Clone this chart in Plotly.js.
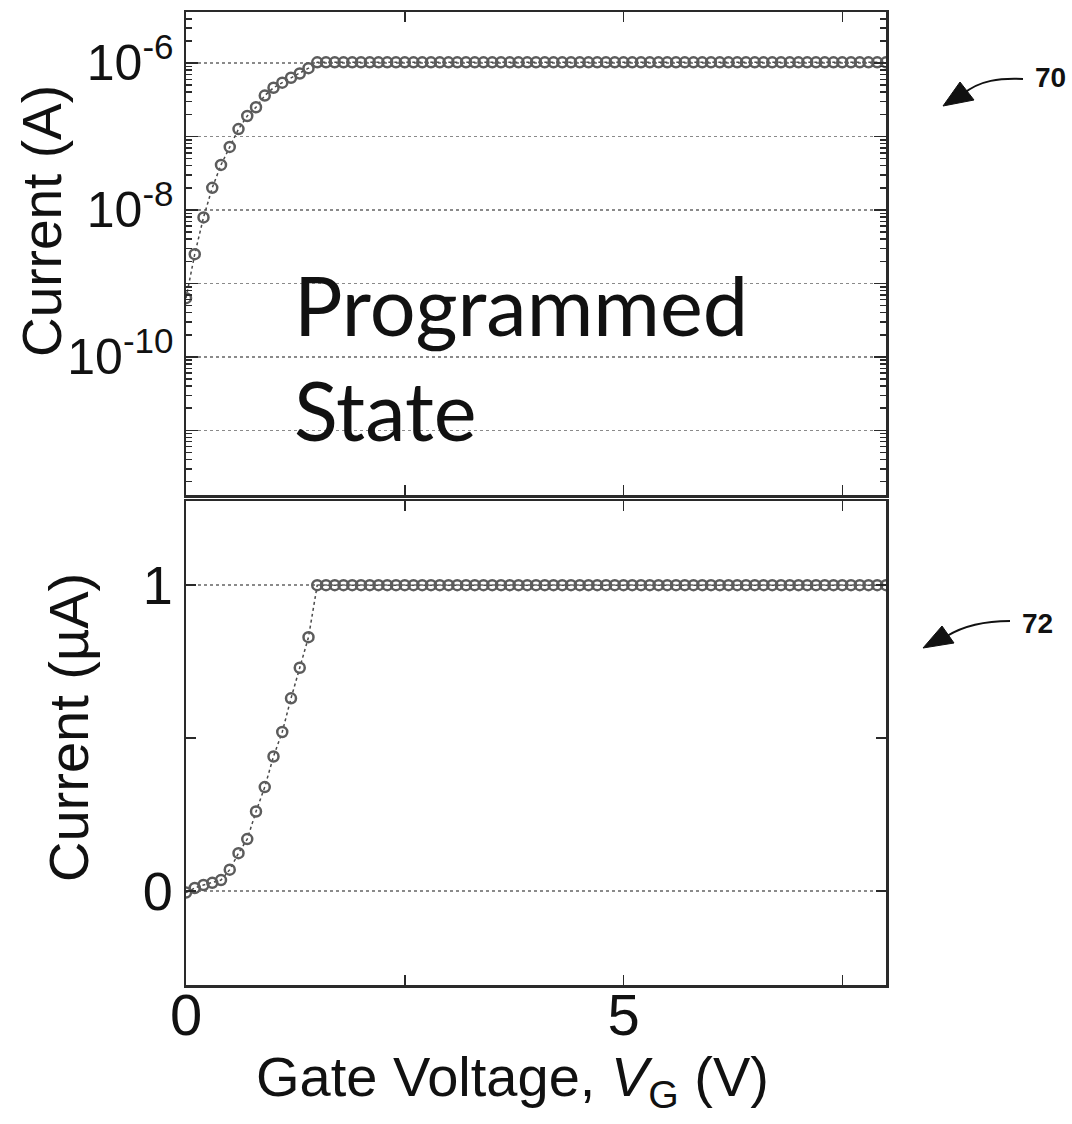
<!DOCTYPE html>
<html>
<head>
<meta charset="utf-8">
<script src="https://cdn.plot.ly/plotly-3.0.1.min.js"></script>
<style>
html,body{margin:0;padding:0;background:#ffffff;}
#chart{width:1072px;height:1124px;}
</style>
</head>
<body>
<div id="chart"></div>
<script>
// ---- data ----
const voltage = [
  0.0,0.1,0.2,0.3,0.4,0.5,0.6,0.7,0.8,0.9,
  1.0,1.1,1.2,1.3,1.4,1.5,1.6,1.7,1.8,1.9,
  2.0,2.1,2.2,2.3,2.4,2.5,2.6,2.7,2.8,2.9,
  3.0,3.1,3.2,3.3,3.4,3.5,3.6,3.7,3.8,3.9,
  4.0,4.1,4.2,4.3,4.4,4.5,4.6,4.7,4.8,4.9,
  5.0,5.1,5.2,5.3,5.4,5.5,5.6,5.7,5.8,5.9,
  6.0,6.1,6.2,6.3,6.4,6.5,6.6,6.7,6.8,6.9,
  7.0,7.1,7.2,7.3,7.4,7.5,7.6,7.7,7.8,7.9,
  8.0
];
// top panel: current in A (log scale)
const currentA = [
  6.3e-10,2.5e-9,7.9e-9,2.0e-8,4.1e-8,7.2e-8,1.26e-7,1.9e-7,2.5e-7,3.6e-7,
  4.6e-7,5.4e-7,6.3e-7,7.2e-7,8.5e-7,1.02e-6,1.02e-6,1.02e-6,1.02e-6,1.02e-6,
  1.02e-6,1.02e-6,1.02e-6,1.02e-6,1.02e-6,1.02e-6,1.02e-6,1.02e-6,1.02e-6,1.02e-6,
  1.02e-6,1.02e-6,1.02e-6,1.02e-6,1.02e-6,1.02e-6,1.02e-6,1.02e-6,1.02e-6,1.02e-6,
  1.02e-6,1.02e-6,1.02e-6,1.02e-6,1.02e-6,1.02e-6,1.02e-6,1.02e-6,1.02e-6,1.02e-6,
  1.02e-6,1.02e-6,1.02e-6,1.02e-6,1.02e-6,1.02e-6,1.02e-6,1.02e-6,1.02e-6,1.02e-6,
  1.02e-6,1.02e-6,1.02e-6,1.02e-6,1.02e-6,1.02e-6,1.02e-6,1.02e-6,1.02e-6,1.02e-6,
  1.02e-6,1.02e-6,1.02e-6,1.02e-6,1.02e-6,1.02e-6,1.02e-6,1.02e-6,1.02e-6,1.02e-6,
  1.02e-6
];
// bottom panel: current in µA (linear scale)
const currentMicroA = [
  -0.005,0.01,0.02,0.027,0.036,0.07,0.124,0.17,0.26,0.34,
  0.44,0.52,0.63,0.73,0.83,1.0,1.0,1.0,1.0,1.0,
  1.0,1.0,1.0,1.0,1.0,1.0,1.0,1.0,1.0,1.0,
  1.0,1.0,1.0,1.0,1.0,1.0,1.0,1.0,1.0,1.0,
  1.0,1.0,1.0,1.0,1.0,1.0,1.0,1.0,1.0,1.0,
  1.0,1.0,1.0,1.0,1.0,1.0,1.0,1.0,1.0,1.0,
  1.0,1.0,1.0,1.0,1.0,1.0,1.0,1.0,1.0,1.0,
  1.0,1.0,1.0,1.0,1.0,1.0,1.0,1.0,1.0,1.0,
  1.0
];
const xTickVals = [0, 5];
const xTickText = ['0', '5'];
const xMinorVals = [2.5, 7.5];
const logTickVals = [1e-11, 1e-10, 1e-9, 1e-8, 1e-7, 1e-6];
const logTickText = ['', '10<sup>-10</sup>', '', '10<sup>-8</sup>', '', '10<sup>-6</sup>'];
const linTickVals = [0, 1];
const linTickText = ['0', '1'];
const linMinorVals = [0.5];
const panelLabels = ['70', '72'];
const stateLabel = ['Programmed', 'State'];
const titles = {
  x: 'Gate Voltage, <i>V</i><sub>G</sub> (V)',
  yTop: 'Current (A)',
  yBottom: 'Current (µA)'
};

// ---- styling / layout ----
const W = 1072, H = 1124;
const L = 186, R = 186, T = 12, B = 139;
const PW = W - L - R, PH = H - T - B;
const fx = px => (px - L) / PW;
const fy = py => (T + PH - py) / PH;

const minorLogVals = [];
for (let e = -12; e <= -6; e++) {
  for (let d = 2; d <= 9; d++) minorLogVals.push(d * Math.pow(10, e));
}

const sans = 'Liberation Sans, Arial, sans-serif';
const axisCol = '#2a2a2a';
const markerCol = '#5c5c5c';
const gridCol = '#8a8a8a';

const commonAxis = {
  showline: true, linecolor: axisCol, linewidth: 2.5,
  mirror: 'ticks', ticks: 'inside', ticklen: 10, tickwidth: 1.5, tickcolor: axisCol,
  zeroline: false
};

const traceStyle = {
  mode: 'lines+markers',
  line: {color: '#4a4a4a', width: 1.5, dash: 'dot'},
  marker: {symbol: 'circle-open', size: 10, color: markerCol, line: {width: 2.5, color: markerCol}},
  showlegend: false, hoverinfo: 'x+y'
};

const traces = [
  Object.assign({x: voltage, y: currentA, xaxis: 'x2', yaxis: 'y2', name: 'log'}, traceStyle),
  Object.assign({x: voltage, y: currentMicroA, xaxis: 'x', yaxis: 'y', name: 'linear'}, traceStyle)
];

function arrowShapes(curve, tri) {
  const c = curve.map(p => [fx(p[0]), fy(p[1])]);
  const t = tri.map(p => [fx(p[0]), fy(p[1])]);
  return [
    {type: 'path', xref: 'paper', yref: 'paper',
     path: `M ${c[0][0]} ${c[0][1]} C ${c[1][0]} ${c[1][1]} ${c[2][0]} ${c[2][1]} ${c[3][0]} ${c[3][1]}`,
     line: {color: '#111', width: 2}},
    {type: 'path', xref: 'paper', yref: 'paper',
     path: `M ${t[0][0]} ${t[0][1]} L ${t[1][0]} ${t[1][1]} L ${t[2][0]} ${t[2][1]} Z`,
     fillcolor: '#111', line: {color: '#111', width: 1}}
  ];
}

const shapes = [].concat(
  arrowShapes([[1023, 79], [1000, 78], [980, 80], [963, 94]], [[943, 106], [960, 82], [974, 100]]),
  arrowShapes([[1010, 621], [985, 621], [965, 625], [947, 636]], [[923, 648], [942, 626], [954, 643]])
);

const xMinor = {tickmode: 'array', tickvals: xMinorVals, ticks: 'inside', ticklen: 10, tickwidth: 1.5, tickcolor: axisCol, showgrid: false};

const layout = {
  width: W, height: H,
  margin: {l: L, r: R, t: T, b: B, pad: 0},
  paper_bgcolor: '#ffffff', plot_bgcolor: '#ffffff',
  showlegend: false,
  xaxis: Object.assign({}, commonAxis, {
    domain: [0, 1], anchor: 'y', range: [0, 8],
    tickmode: 'array', tickvals: xTickVals, ticktext: xTickText,
    minor: xMinor,
    showgrid: false,
    tickfont: {family: sans, size: 58, color: '#111'},
    ticklabelstandoff: -22
  }),
  xaxis2: Object.assign({}, commonAxis, {
    domain: [0, 1], anchor: 'y2', range: [0, 8], matches: 'x',
    tickmode: 'array', tickvals: xTickVals,
    minor: xMinor,
    showticklabels: false, showgrid: false
  }),
  yaxis: Object.assign({}, commonAxis, {
    domain: [0, fy(501)], anchor: 'x', range: [-0.307, 1.275],
    tickmode: 'array', tickvals: linTickVals, ticktext: linTickText,
    showgrid: true, gridcolor: gridCol, griddash: 'dot', gridwidth: 1.5,
    minor: {tickmode: 'array', tickvals: linMinorVals, ticks: 'inside', ticklen: 10, tickwidth: 1.5, tickcolor: axisCol, showgrid: false},
    tickfont: {family: sans, size: 54, color: '#111'}
  }),
  yaxis2: Object.assign({}, commonAxis, {
    domain: [fy(495), 1], anchor: 'x2', type: 'log', range: [-11.88, -5.306],
    tickmode: 'array', tickvals: logTickVals, ticktext: logTickText,
    ticklen: 12,
    showgrid: true, gridcolor: gridCol, griddash: 'dot', gridwidth: 1.5,
    minor: {tickmode: 'array', tickvals: minorLogVals, ticks: 'inside', ticklen: 6, tickwidth: 1.5, tickcolor: axisCol, showgrid: false},
    tickfont: {family: sans, size: 50, color: '#111'}
  }),
  shapes: shapes,
  annotations: [
    {xref: 'paper', yref: 'paper', x: fx(512), y: fy(1080), xanchor: 'center', yanchor: 'middle',
     text: titles.x, showarrow: false, font: {family: sans, size: 56, color: '#111'}},
    {xref: 'paper', yref: 'paper', x: fx(42), y: fy(221), xanchor: 'center', yanchor: 'middle', textangle: -90,
     text: titles.yTop, showarrow: false, font: {family: sans, size: 55, color: '#111'}},
    {xref: 'paper', yref: 'paper', x: fx(68), y: fy(728), xanchor: 'center', yanchor: 'middle', textangle: -90,
     text: titles.yBottom, showarrow: false, font: {family: sans, size: 56, color: '#111'}},
    {xref: 'paper', yref: 'paper', x: fx(292), y: fy(304), xanchor: 'left', yanchor: 'middle',
     text: stateLabel[0], showarrow: false, font: {family: 'Lato, Open Sans, sans-serif', size: 81, color: '#111'}},
    {xref: 'paper', yref: 'paper', x: fx(292), y: fy(410), xanchor: 'left', yanchor: 'middle',
     text: stateLabel[1], showarrow: false, font: {family: 'Lato, Open Sans, sans-serif', size: 81, color: '#111'}},
    {xref: 'paper', yref: 'paper', x: fx(1050), y: fy(78), xanchor: 'center', yanchor: 'middle',
     text: '<b>' + panelLabels[0] + '</b>', showarrow: false, font: {family: sans, size: 28, color: '#111'}},
    {xref: 'paper', yref: 'paper', x: fx(1037), y: fy(623), xanchor: 'center', yanchor: 'middle',
     text: '<b>' + panelLabels[1] + '</b>', showarrow: false, font: {family: sans, size: 28, color: '#111'}}
  ]
};

Plotly.newPlot('chart', traces, layout, {displayModeBar: false, staticPlot: true});
</script>
</body>
</html>
